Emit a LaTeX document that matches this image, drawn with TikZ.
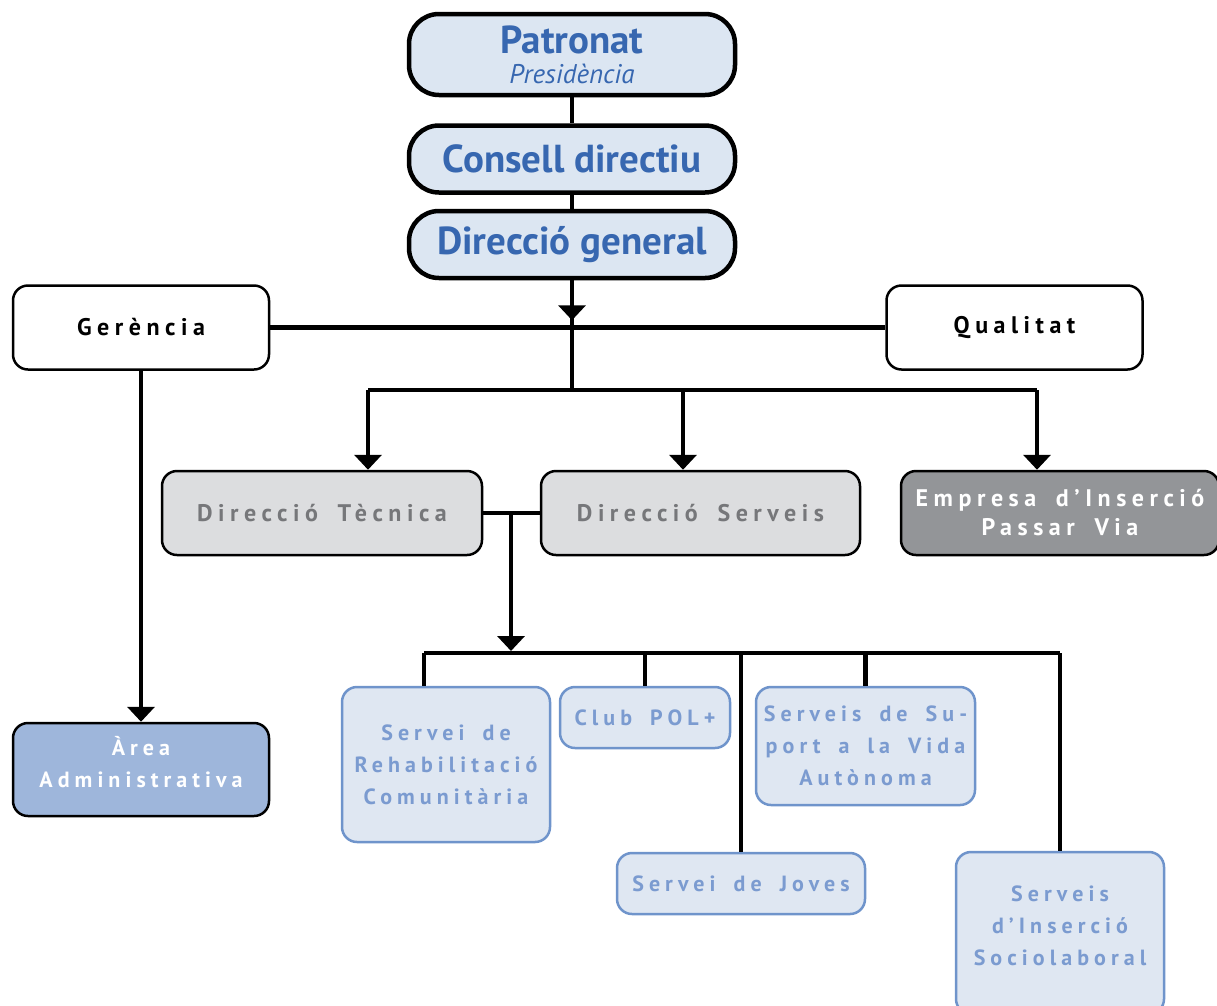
\documentclass[tikz,border=0pt]{standalone}
\usepackage{fontspec}
\setmainfont{PT Sans}
\newfontfamily\spacedfont[LetterSpace=23, WordSpace=1.7]{PT Sans}
\usetikzlibrary{arrows.meta, positioning}
\usepackage{xcolor}
\definecolor{topfill}{HTML}{DCE6F2}
\definecolor{topblue}{HTML}{3767B0}
\definecolor{dirfill}{HTML}{DCDDDF}
\definecolor{dirtext}{HTML}{76777A}
\definecolor{empfill}{HTML}{939598}
\definecolor{admfill}{HTML}{9EB6DB}
\definecolor{srvfill}{HTML}{DFE7F2}
\definecolor{srvline}{HTML}{6F94CB}
\definecolor{srvtext}{HTML}{7B9BD0}

\begin{document}
\begin{tikzpicture}[x=1pt, y=-1pt,
    top/.style={rectangle, draw, line width=4.5pt, rounded corners=30pt, fill=topfill, text=topblue, minimum width=326pt, minimum height=67pt, inner sep=2pt, align=center, font=\bfseries\fontsize{39}{30}\selectfont},
    side/.style={rectangle, draw, line width=2.5pt, rounded corners=15pt, fill=white, minimum width=256pt, minimum height=84pt, font=\spacedfont\bfseries\fontsize{24}{28}\selectfont},
    dir/.style={rectangle, draw, line width=2.5pt, rounded corners=15pt, fill=dirfill, text=dirtext, minimum width=320pt, minimum height=84pt, align=center, font=\spacedfont\bfseries\fontsize{24}{29}\selectfont},
    srv/.style={rectangle, draw=srvline, line width=2.5pt, rounded corners=15pt, fill=srvfill, text=srvtext, align=center, font=\spacedfont\bfseries\fontsize{22}{32}\selectfont},
    conn/.style={line width=4.8pt},
    arr/.style={conn, -{Triangle[width=27pt, length=15pt]}}
]
\useasboundingbox (0,0) rectangle (1217,1005);

% top of the chart
\node[top, minimum height=81pt] (pat) at (572,54.5) {Patronat\\{\mdseries\itshape\fontsize{27}{28}\selectfont Presidència}};
\node[top] (cons) at (572,159) {Consell directiu};
\node[top] (dg) at (572,244.5) {Direcció general};

\node[side] (ger) at (141,327.5) {Gerència};
\node[side] (qual) at (1014.5,327.5) {Qualitat};

% directions
\node[dir] (dt) at (322,513) {Direcció Tècnica};
\node[dir, minimum width=319pt] (ds) at (700.5,513) {Direcció Serveis};
\node[dir, fill=empfill, text=white, minimum width=318pt] (emp) at (1060,513) {Empresa d’Inserció\\Passar Via};
\node[dir, fill=admfill, text=white, minimum width=256pt, minimum height=93pt, font=\spacedfont\bfseries\fontsize{22}{32}\selectfont] (adm) at (141,769.5) {\raisebox{4pt}[\height][\depth]{\begin{tabular}{@{}c@{}}Àrea\\Administrativa\end{tabular}}};

% services
\node[srv, minimum width=208pt, minimum height=155pt] (rehab) at (446,764.5) {Servei de\\Rehabilitació\\Comunitària};
\node[srv, minimum width=170pt, minimum height=61pt] (club) at (645,717.5) {Club POL+};
\node[srv, minimum width=219pt, minimum height=118pt] (suport) at (865.5,746) {Serveis de Su-\\port a la Vida\\Autònoma};
\node[srv, minimum width=248pt, minimum height=61pt] (joves) at (741,883.5) {Servei de Joves};
\node[srv, minimum width=208pt, minimum height=162pt] (insercio) at (1060,933) {\raisebox{6pt}[\height][\depth]{\begin{tabular}{@{}c@{}}Serveis\\d’Inserció\\Sociolaboral\end{tabular}}};

\coordinate (busA) at (572,390);
\coordinate (dropA1) at (368,390);
\coordinate (dropA2) at (683,390);
\coordinate (dropA3) at (1037,390);
\coordinate (join) at (511,513);
\coordinate (busB) at (511,653);
\coordinate (dropB1) at (424,653);
\coordinate (dropB5) at (1060,653);

\draw[conn] (pat) -- (cons);
\draw[conn] (cons) -- (dg);
\draw[conn] (dg) -- (busA);
\draw[arr] (dg.south) -- ++(0,40);
\draw[conn] (ger) -- (qual);

\draw[conn] (dropA1) -- (dropA3);
\draw[arr] (dropA1) -- (dropA1 |- dt.north);
\draw[arr] (dropA2) -- (dropA2 |- ds.north);
\draw[arr] (dropA3) -- (dropA3 |- emp.north);

\draw[arr] (ger) -- (adm);

\draw[conn] (dt) -- (ds);
\draw[arr] (join) -- ([yshift=2pt]busB);
\draw[conn] (dropB1) -- (dropB5);
\draw[conn] (dropB1) -- (dropB1 |- rehab.north);
\draw[conn] (club.north |- busB) -- (club);
\draw[conn] (joves.north |- busB) -- (joves);
\draw[conn] (suport.north |- busB) -- (suport);
\draw[conn] (dropB5) -- (insercio);
\end{tikzpicture}
\end{document}
